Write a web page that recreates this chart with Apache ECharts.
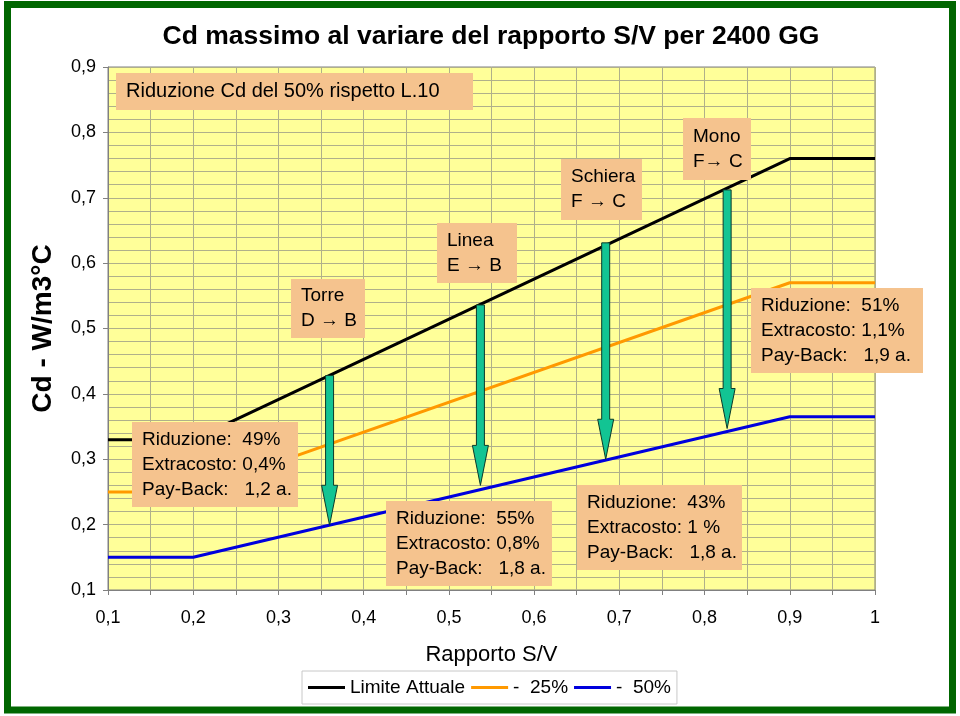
<!DOCTYPE html>
<html>
<head>
<meta charset="utf-8">
<script src="https://cdn.jsdelivr.net/npm/echarts@6/dist/echarts.min.js"></script>
<style>
html,body{margin:0;padding:0;background:#fff;}
#chart{width:960px;height:716px;}
</style>
</head>
<body>
<div id="chart"></div>
<script>
// ---- data ----
const svPoints = [0.1, 0.2, 0.9, 1.0];
const limiteAttuale = [0.33, 0.33, 0.76, 0.76];
const meno25 = [0.25, 0.25, 0.57, 0.57];
const meno50 = [0.15, 0.15, 0.365, 0.365];

const arrowSV = [0.36, 0.537, 0.684, 0.8265];
const arrowTop = [0.428, 0.536, 0.631, 0.712];
const arrowBottom = [0.199, 0.26, 0.300, 0.347];

const seriesNames = ['Limite Attuale', '-  25%', '-  50%'];
const seriesColors = ['#000000', '#ff9900', '#0000dd'];

const xTickLabels = ['0,1','0,2','0,3','0,4','0,5','0,6','0,7','0,8','0,9','1'];
const yTickLabels = ['0,1','0,2','0,3','0,4','0,5','0,6','0,7','0,8','0,9'];

const titleText = 'Cd massimo al variare del rapporto S/V per 2400 GG';
const xName = 'Rapporto S/V';
const yName = 'Cd - W/m3°C';

const FONT = "'Liberation Sans', Arial, sans-serif";

function pairs(xs, ys){ return xs.map((x,i)=>[x, ys[i]]); }

const chart = echarts.init(document.getElementById('chart'), null, {renderer:'canvas'});

function box(x, y, w, h, text, fs){
  return {
    type:'group', z:100,
    children:[
      {type:'rect', z:100, shape:{x:x, y:y, width:w, height:h}, style:{fill:'#f5c38e', stroke:null}},
      {type:'text', z:101, x: x+10, y: y+h/2,
       style:{text:text, font: (fs||19)+'px '+FONT, fill:'#000', verticalAlign:'middle', align:'left', lineHeight:25}}
    ]
  };
}

const lineSeries = [limiteAttuale, meno25, meno50].map((vals, i)=>({
  name: seriesNames[i], type:'line', data: pairs(svPoints, vals),
  symbol:'none', lineStyle:{color: seriesColors[i], width:3}, itemStyle:{color: seriesColors[i]},
  z:2, animation:false
}));

const arrowSeries = {
  type:'custom', name:'arrows', z:3, animation:false,
  data: arrowSV.map((x,i)=>[x, arrowTop[i], arrowBottom[i]]),
  renderItem: function(params, api){
    const top = api.coord([api.value(0), api.value(1)]);
    const bot = api.coord([api.value(0), api.value(2)]);
    const cx = top[0];
    const sw = 4, hw = 8, hl = 40;
    const hy = bot[1] - hl;
    return {
      type:'polygon',
      shape:{points:[[cx-sw, top[1]],[cx+sw, top[1]],[cx+sw, hy],[cx+hw, hy],[cx, bot[1]],[cx-hw, hy],[cx-sw, hy]]},
      style:{fill:'#12c493', stroke:'#0b3a2a', lineWidth:1}
    };
  }
};

const option = {
  backgroundColor:'#ffffff',
  animation:false,
  title:{
    text: titleText, left: 491, top: 23, textAlign:'center', padding:0,
    textStyle:{fontFamily:FONT, fontSize:26.5, fontWeight:'bold', color:'#000'}
  },
  legend:{
    data: seriesNames, left: 302, top: 671, padding:[7,6,7,6],
    borderColor:'#c8c8c8', borderWidth:1, backgroundColor:'#fff',
    icon:'rect', itemWidth:37, itemHeight:3, itemGap:6,
    textStyle:{fontFamily:FONT, fontSize:19, color:'#000', padding:[0,0,0,0]}
  },
  grid:{
    left:108, top:67, right:85, bottom:126, show:true,
    backgroundColor:'#ffff99', borderColor:'#808080', borderWidth:1
  },
  xAxis:{
    type:'value', min:0.1, max:1, interval:0.05,
    name: xName, nameLocation:'middle', nameGap:54,
    nameTextStyle:{fontFamily:FONT, fontSize:22, color:'#000'},
    axisLine:{show:true, lineStyle:{color:'#808080'}},
    axisTick:{show:true, length:5, lineStyle:{color:'#808080'}},
    axisLabel:{
      margin:19, fontFamily:FONT, fontSize:18, color:'#000',
      formatter: function(v){
        const r = Math.round(v*100);
        if (r % 10 !== 0) return '';
        return xTickLabels[r/10 - 1];
      }
    },
    splitLine:{show:true, lineStyle:{color:'#b0b08a', width:1}}
  },
  yAxis:{
    type:'value', min:0.1, max:0.9, interval:0.1,
    name: yName, nameLocation:'middle', nameGap:51, nameRotate:90,
    nameTextStyle:{fontFamily:FONT, fontSize:28, fontWeight:'bold', color:'#000'},
    axisLine:{show:true, lineStyle:{color:'#808080'}},
    axisTick:{show:true, length:5, lineStyle:{color:'#808080'}},
    axisLabel:{
      margin:12, fontFamily:FONT, fontSize:18, color:'#000',
      formatter: function(v){
        const r = Math.round(v*10);
        return yTickLabels[r-1];
      }
    },
    splitLine:{show:true, lineStyle:{color:'#b0b08a', width:1}},
    minorTick:{show:false, splitNumber:5},
    minorSplitLine:{show:true, lineStyle:{color:'#b0b08a', width:1}}
  },
  series: lineSeries.concat([arrowSeries]),
  graphic:[
    {type:'rect', z:200, shape:{x:7.5, y:4.5, width:945, height:705.5}, style:{fill:null, stroke:'#006600', lineWidth:7}},
    box(116, 73, 357, 37, 'Riduzione Cd del 50% rispetto L.10', 20),
    box(291, 279, 74, 59, 'Torre\nD → B'),
    box(437, 223, 80, 60, 'Linea\nE → B'),
    box(561, 159, 81, 61, 'Schiera\nF → C'),
    box(683, 118, 68, 62, 'Mono\nF→ C'),
    box(751, 288, 172, 85, 'Riduzione:  51%\nExtracosto: 1,1%\nPay-Back:   1,9 a.'),
    box(132, 422, 166, 85, 'Riduzione:  49%\nExtracosto: 0,4%\nPay-Back:   1,2 a.'),
    box(386, 501, 166, 85, 'Riduzione:  55%\nExtracosto: 0,8%\nPay-Back:   1,8 a.'),
    box(577, 485, 165, 85, 'Riduzione:  43%\nExtracosto: 1 %\nPay-Back:   1,8 a.')
  ]
};
chart.setOption(option);
</script>
</body>
</html>
